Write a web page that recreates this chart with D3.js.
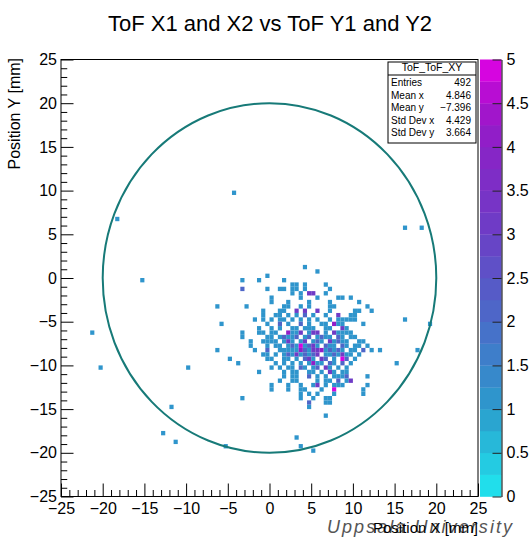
<!DOCTYPE html>
<html>
<head>
<meta charset="utf-8">
<script src="https://cdn.jsdelivr.net/npm/d3@7"></script>
<style>
  body { margin: 0; background: #fff; }
  svg { display: block; }
  text { font-family: "Liberation Sans", Arial, Helvetica, sans-serif; }
</style>
</head>
<body>
<svg id="chart" width="531" height="537"></svg>
<script>
// Histogram settings: 100 x 100 bins over [-25, 25] mm on both axes
const axisRange = [-25, 25];
const binWidth = 0.5;
const xMajorTicks = [-25, -20, -15, -10, -5, 0, 5, 10, 15, 20, 25];
const yMajorTicks = [-25, -20, -15, -10, -5, 0, 5, 10, 15, 20, 25];
const zTicks = [0, 0.5, 1, 1.5, 2, 2.5, 3, 3.5, 4, 4.5, 5];
const zMax = 5;
const zLevels = 20;
const detectorRadius = 20;

// Filled bins: [x centre (mm), y centre (mm), entries]
const isolatedHits = [
  [-4.25, 9.75, 1], [-18.25, 6.75, 1], [16.25, 5.75, 1], [18.25, 5.75, 1],
  [-15.25, -0.25, 1], [16.25, -4.75, 1], [19.25, -5.25, 1], [-21.25, -6.25, 1],
  [17.75, -8.25, 1], [-20.25, -10.25, 1], [-9.75, -10.25, 1], [15.25, -9.75, 1],
  [-11.75, -14.75, 1], [-12.75, -17.75, 1], [-11.25, -18.75, 1], [-5.25, -19.25, 1],
  [3.25, -18.25, 1], [3.75, -19.25, 1], [5.25, -19.75, 1]
];

const clusterHits = [
  [4.25, 1.25, 1],
  [5.75, 0.75, 1],
  [-0.25, 0.25, 1],
  [-3.25, -0.25, 1], [-1.25, -0.25, 1], [1.75, -0.25, 1],
  [2.75, -0.75, 1], [3.25, -0.75, 1], [4.25, -0.75, 1], [6.75, -0.75, 1],
  [-3.25, -1.25, 2], [-0.25, -1.25, 1], [1.25, -1.25, 1], [1.75, -1.25, 1], [2.75, -1.25, 1], [3.25, -1.25, 1], [4.25, -1.25, 1], [7.25, -1.25, 1],
  [2.75, -1.75, 1], [3.75, -1.75, 1], [4.75, -1.75, 3], [5.25, -1.75, 3], [6.75, -1.75, 1],
  [0.25, -2.25, 1], [3.75, -2.25, 1], [5.75, -2.25, 1], [8.25, -2.25, 1], [8.75, -2.25, 1], [9.75, -2.25, 1],
  [0.25, -2.75, 1], [2.25, -2.75, 1], [4.75, -2.75, 1], [7.25, -2.75, 1], [10.75, -2.75, 1],
  [-6.25, -3.25, 1], [-2.75, -3.25, 1], [1.75, -3.25, 1], [2.25, -3.25, 1], [3.75, -3.25, 1], [4.75, -3.25, 1], [7.25, -3.25, 1], [7.75, -3.25, 1], [11.75, -3.25, 1],
  [-0.75, -3.75, 1], [1.25, -3.75, 1], [1.75, -3.75, 1], [3.25, -3.75, 3], [4.25, -3.75, 3], [5.75, -3.75, 3], [7.25, -3.75, 1], [10.25, -3.75, 1], [10.75, -3.75, 1], [12.25, -3.75, 1],
  [-0.75, -4.25, 1], [0.75, -4.25, 1], [1.25, -4.25, 1], [2.25, -4.25, 1], [3.25, -4.25, 1], [4.25, -4.25, 2], [5.25, -4.25, 1], [6.75, -4.25, 1], [8.25, -4.25, 3], [9.75, -4.25, 1], [10.25, -4.25, 1],
  [-1.75, -4.75, 1], [-0.75, -4.75, 1], [0.25, -4.75, 1], [1.25, -4.75, 1], [1.75, -4.75, 1], [2.75, -4.75, 1], [3.75, -4.75, 1], [4.75, -4.75, 1], [5.75, -4.75, 1], [7.25, -4.75, 1], [8.25, -4.75, 1], [8.75, -4.75, 1], [9.25, -4.75, 1], [9.75, -4.75, 1], [10.25, -4.75, 1],
  [-5.75, -5.25, 1], [-0.25, -5.25, 1], [1.25, -5.25, 2], [2.25, -5.25, 1], [3.75, -5.25, 2], [4.75, -5.25, 1], [6.25, -5.25, 1], [6.75, -5.25, 1], [7.75, -5.25, 4], [8.25, -5.25, 1], [8.75, -5.25, 1], [11.25, -5.25, 1],
  [-1.25, -5.75, 1], [0.25, -5.75, 1], [1.25, -5.75, 1], [2.75, -5.75, 1], [3.25, -5.75, 1], [4.25, -5.75, 1], [4.75, -5.75, 1], [5.25, -5.75, 1], [6.75, -5.75, 1], [7.25, -5.75, 1], [8.75, -5.75, 3], [9.25, -5.75, 1],
  [-3.25, -6.25, 1], [-1.25, -6.25, 1], [-0.75, -6.25, 1], [0.25, -6.25, 1], [0.75, -6.25, 1], [2.25, -6.25, 4], [2.75, -6.25, 1], [3.25, -6.25, 1], [3.75, -6.25, 3], [4.75, -6.25, 1], [5.25, -6.25, 3], [5.75, -6.25, 3], [6.75, -6.25, 1], [7.75, -6.25, 3], [8.25, -6.25, 1], [8.75, -6.25, 1], [9.25, -6.25, 1], [9.75, -6.25, 1],
  [-3.25, -6.75, 1], [-0.25, -6.75, 1], [0.25, -6.75, 1], [1.25, -6.75, 1], [1.75, -6.75, 2], [2.25, -6.75, 1], [2.75, -6.75, 1], [3.25, -6.75, 2], [4.25, -6.75, 1], [4.75, -6.75, 2], [5.75, -6.75, 1], [6.25, -6.75, 2], [6.75, -6.75, 1], [7.25, -6.75, 1], [8.25, -6.75, 2], [8.75, -6.75, 1], [9.75, -6.75, 1], [10.25, -6.75, 1],
  [-2.25, -7.25, 1], [-0.75, -7.25, 1], [-0.25, -7.25, 1], [0.25, -7.25, 1], [0.75, -7.25, 1], [1.75, -7.25, 1], [2.25, -7.25, 3], [2.75, -7.25, 1], [3.75, -7.25, 1], [4.25, -7.25, 3], [5.25, -7.25, 1], [5.75, -7.25, 2], [6.25, -7.25, 1], [7.25, -7.25, 3], [7.75, -7.25, 1], [8.25, -7.25, 2], [8.75, -7.25, 1], [9.25, -7.25, 1], [10.75, -7.25, 1], [11.25, -7.25, 1],
  [-2.25, -7.75, 1], [-0.25, -7.75, 1], [0.75, -7.75, 1], [1.25, -7.75, 1], [2.25, -7.75, 1], [2.75, -7.75, 2], [3.25, -7.75, 1], [3.75, -7.75, 5], [4.25, -7.75, 1], [4.75, -7.75, 2], [5.25, -7.75, 3], [5.75, -7.75, 1], [6.75, -7.75, 2], [7.25, -7.75, 1], [7.75, -7.75, 1], [8.75, -7.75, 2], [9.25, -7.75, 1], [10.25, -7.75, 1], [10.75, -7.75, 1], [11.75, -7.75, 1],
  [-6.25, -8.25, 1], [-1.75, -8.25, 1], [-0.25, -8.25, 2], [1.25, -8.25, 1], [1.75, -8.25, 1], [2.25, -8.25, 1], [2.75, -8.25, 1], [3.25, -8.25, 1], [3.75, -8.25, 4], [4.25, -8.25, 2], [4.75, -8.25, 1], [5.25, -8.25, 3], [5.75, -8.25, 3], [6.25, -8.25, 4], [6.75, -8.25, 1], [7.25, -8.25, 2], [7.75, -8.25, 1], [8.25, -8.25, 2], [8.75, -8.25, 1], [9.75, -8.25, 1], [10.25, -8.25, 1], [11.25, -8.25, 2], [12.25, -8.25, 1], [13.25, -8.25, 1],
  [-0.75, -8.75, 1], [-0.25, -8.75, 1], [0.75, -8.75, 1], [1.75, -8.75, 1], [2.25, -8.75, 2], [2.75, -8.75, 1], [3.25, -8.75, 3], [3.75, -8.75, 1], [4.25, -8.75, 2], [4.75, -8.75, 1], [5.25, -8.75, 2], [5.75, -8.75, 3], [6.75, -8.75, 1], [7.25, -8.75, 1], [7.75, -8.75, 2], [8.25, -8.75, 1], [8.75, -8.75, 3], [9.25, -8.75, 1], [9.75, -8.75, 1], [10.75, -8.75, 1],
  [-4.75, -9.25, 1], [-0.25, -9.25, 1], [0.25, -9.25, 1], [1.75, -9.25, 1], [2.25, -9.25, 1], [3.25, -9.25, 1], [4.25, -9.25, 2], [4.75, -9.25, 3], [5.25, -9.25, 1], [6.25, -9.25, 3], [6.75, -9.25, 2], [7.75, -9.25, 1], [8.75, -9.25, 5], [9.25, -9.25, 2], [10.25, -9.25, 1],
  [-3.75, -9.75, 1], [0.75, -9.75, 1], [1.75, -9.75, 1], [2.75, -9.75, 1], [3.75, -9.75, 1], [4.75, -9.75, 1], [5.25, -9.75, 4], [5.75, -9.75, 1], [6.25, -9.75, 1], [7.25, -9.75, 2], [7.75, -9.75, 1], [8.75, -9.75, 2], [9.75, -9.75, 1],
  [0.25, -10.25, 1], [1.25, -10.25, 1], [2.25, -10.25, 1], [2.75, -10.25, 1], [3.75, -10.25, 2], [4.25, -10.25, 1], [5.25, -10.25, 1], [5.75, -10.25, 2], [6.75, -10.25, 3], [7.25, -10.25, 1], [8.25, -10.25, 1], [9.25, -10.25, 1],
  [-1.25, -10.75, 1], [1.75, -10.75, 1], [2.75, -10.75, 1], [3.25, -10.75, 1], [4.75, -10.75, 1], [5.25, -10.75, 1], [6.25, -10.75, 1], [7.25, -10.75, 3], [7.75, -10.75, 1], [8.75, -10.75, 1], [9.25, -10.75, 1],
  [1.75, -11.25, 1], [2.75, -11.25, 1], [3.25, -11.25, 1], [4.75, -11.25, 2], [5.75, -11.25, 1], [6.75, -11.25, 1], [7.75, -11.25, 1], [8.25, -11.25, 1], [8.75, -11.25, 1], [9.25, -11.25, 2], [11.75, -11.25, 1],
  [1.25, -11.75, 1], [2.75, -11.75, 1], [3.25, -11.75, 1], [5.75, -11.75, 1], [6.75, -11.75, 1], [7.25, -11.75, 1], [8.25, -11.75, 2], [9.25, -11.75, 1], [9.75, -11.75, 3],
  [0.25, -12.25, 1], [2.25, -12.25, 1], [3.75, -12.25, 1], [5.25, -12.25, 1], [5.75, -12.25, 3], [6.75, -12.25, 1], [7.75, -12.25, 1], [8.25, -12.25, 1], [8.75, -12.25, 1], [11.75, -12.25, 1],
  [0.25, -12.75, 1], [2.25, -12.75, 1], [3.75, -12.75, 1], [4.25, -12.75, 1], [6.25, -12.75, 1], [7.75, -12.75, 5], [11.25, -12.75, 1],
  [3.75, -13.25, 1], [4.75, -13.25, 1], [5.75, -13.25, 1], [7.75, -13.25, 1], [11.25, -13.25, 1],
  [-3.25, -13.75, 1], [3.75, -13.75, 1], [5.25, -13.75, 1], [6.75, -13.75, 1], [7.25, -13.75, 1],
  [4.75, -14.25, 2], [6.75, -14.25, 1], [7.25, -14.25, 1],
  [4.75, -14.75, 1],
  [6.75, -15.75, 1]
];

// Statistics box contents
const statsTitle = "ToF_ToF_XY";
const statsLabels = ["Entries", "Mean x", "Mean y", "Std Dev x", "Std Dev y"];
const statsValues = ["492", "4.846", "\u22127.396", "4.429", "3.664"];

const W = 531, H = 537;
const plot = { left: 61, right: 478, top: 59.5, bottom: 496.5 };
const bar = { left: 480, right: 501.5 };

const svg = d3.select("#chart");
svg.append("rect").attr("width", W).attr("height", H).attr("fill", "#ffffff");

const x = d3.scaleLinear().domain(axisRange).range([plot.left, plot.right]);
const y = d3.scaleLinear().domain(axisRange).range([plot.bottom, plot.top]);
const z = d3.scaleLinear().domain([0, zMax]).range([plot.bottom, plot.top]);

// Palette: cyan -> blue -> violet -> magenta, split into discrete contour levels
const ramp = d3.scaleLinear()
  .domain([0, 0.2, 0.4, 0.6, 0.8, 0.9, 1])
  .range(["#1fe8ef", "#2b9bcc", "#4a6cc8", "#6b3fc6", "#8a22c6", "#a812cc", "#e600e6"])
  .interpolate(d3.interpolateRgb);
const levelStep = zMax / zLevels;
const levelColor = v => {
  const k = Math.min(zLevels - 1, Math.max(0, Math.floor(v / levelStep + 1e-9)));
  return ramp((k + 0.5) / zLevels);
};

// Histogram cells
const cells = isolatedHits.concat(clusterHits).map(([cx, cy, n]) => ({ cx, cy, n }));
svg.append("g").selectAll("rect").data(cells).join("rect")
  .attr("x", d => x(d.cx - binWidth / 2))
  .attr("y", d => y(d.cy + binWidth / 2))
  .attr("width", d => x(d.cx + binWidth / 2) - x(d.cx - binWidth / 2))
  .attr("height", d => y(d.cy - binWidth / 2) - y(d.cy + binWidth / 2))
  .attr("fill", d => levelColor(d.n));

// Detector acceptance circle
svg.append("ellipse")
  .attr("cx", x(0)).attr("cy", y(0))
  .attr("rx", x(detectorRadius) - x(0))
  .attr("ry", y(0) - y(detectorRadius))
  .attr("fill", "none")
  .attr("stroke", "#177a78")
  .attr("stroke-width", 2);

// Frame
svg.append("rect")
  .attr("x", plot.left).attr("y", plot.top)
  .attr("width", plot.right - plot.left).attr("height", plot.bottom - plot.top)
  .attr("fill", "none").attr("stroke", "#000").attr("stroke-width", 1);

const fmt = d3.format("~g");
const minorX = d3.range(axisRange[0], axisRange[1] + 1, 1).filter(v => v % 5 !== 0);

// X axis: major + minor ticks pointing into the frame
const gx = svg.append("g").attr("transform", `translate(0,${plot.bottom})`);
gx.call(d3.axisBottom(x).tickValues(xMajorTicks).tickSize(-13).tickSizeOuter(0).tickPadding(6).tickFormat(fmt));
gx.append("g").call(d3.axisBottom(x).tickValues(minorX).tickSize(-6.5).tickSizeOuter(0).tickFormat(""));
gx.selectAll("text").attr("font-size", 16).attr("fill", "#000")
  .attr("font-family", "'Liberation Sans', Arial, sans-serif");
gx.selectAll(".domain").remove();

// Y axis
const gy = svg.append("g").attr("transform", `translate(${plot.left},0)`);
gy.call(d3.axisLeft(y).tickValues(yMajorTicks).tickSize(-12.5).tickSizeOuter(0).tickPadding(4).tickFormat(fmt));
gy.append("g").call(d3.axisLeft(y).tickValues(minorX).tickSize(-6.25).tickSizeOuter(0).tickFormat(""));
gy.selectAll("text").attr("font-size", 16).attr("fill", "#000")
  .attr("font-family", "'Liberation Sans', Arial, sans-serif");
gy.selectAll(".domain").remove();
svg.selectAll(".tick line").attr("stroke", "#000");

// Colour scale bar
const levels = d3.range(zLevels).map(k => k * levelStep);
svg.append("g").selectAll("rect").data(levels).join("rect")
  .attr("x", bar.left)
  .attr("y", d => z(d + levelStep))
  .attr("width", bar.right - bar.left)
  .attr("height", d => z(d) - z(d + levelStep) + 0.3)
  .attr("fill", d => levelColor(d + levelStep / 2));

const gz = svg.append("g").attr("transform", `translate(${bar.right},0)`);
gz.call(d3.axisRight(z).tickValues(zTicks).tickSize(-9).tickSizeOuter(0).tickPadding(5).tickFormat(fmt));
gz.selectAll("text").attr("font-size", 16).attr("fill", "#000")
  .attr("font-family", "'Liberation Sans', Arial, sans-serif");
gz.selectAll(".tick line").attr("stroke", "#222");
gz.select(".domain").attr("stroke", "#000");

// Title
svg.append("text")
  .attr("x", 270).attr("y", 31)
  .attr("text-anchor", "middle")
  .attr("font-size", 22)
  .text("ToF X1 and X2 vs ToF Y1 and Y2");

// Axis titles
svg.append("text")
  .attr("transform", "translate(19.5,58) rotate(-90)")
  .attr("text-anchor", "end")
  .attr("font-size", 16)
  .text("Position Y [mm]");

svg.append("text")
  .attr("x", 327).attr("y", 533)
  .attr("font-family", "'Liberation Serif', 'Times New Roman', serif")
  .attr("font-style", "italic")
  .attr("font-size", 18)
  .attr("fill", "#555")
  .attr("textLength", 185)
  .attr("lengthAdjust", "spacing")
  .text("Uppsala University");

svg.append("text")
  .attr("x", plot.right).attr("y", 533)
  .attr("text-anchor", "end")
  .attr("font-size", 15)
  .text("Position X [mm]");

// Statistics box
const box = { x: 388, y: 62, w: 88, h: 81 };
const gs = svg.append("g");
gs.append("rect").attr("x", box.x).attr("y", box.y).attr("width", box.w).attr("height", box.h)
  .attr("fill", "#fff").attr("stroke", "#000").attr("stroke-width", 1);
gs.append("line").attr("x1", box.x).attr("x2", box.x + box.w)
  .attr("y1", box.y + 13).attr("y2", box.y + 13).attr("stroke", "#000");
gs.append("text").attr("x", box.x + box.w / 2).attr("y", box.y + 9)
  .attr("text-anchor", "middle").attr("font-size", 10.5).text(statsTitle);
statsLabels.forEach((label, i) => {
  const by = box.y + 24 + i * 12.6;
  gs.append("text").attr("x", box.x + 3).attr("y", by).attr("font-size", 10).text(label);
  gs.append("text").attr("x", box.x + box.w - 5).attr("y", by)
    .attr("text-anchor", "end").attr("font-size", 10).text(statsValues[i]);
});
</script>
</body>
</html>
